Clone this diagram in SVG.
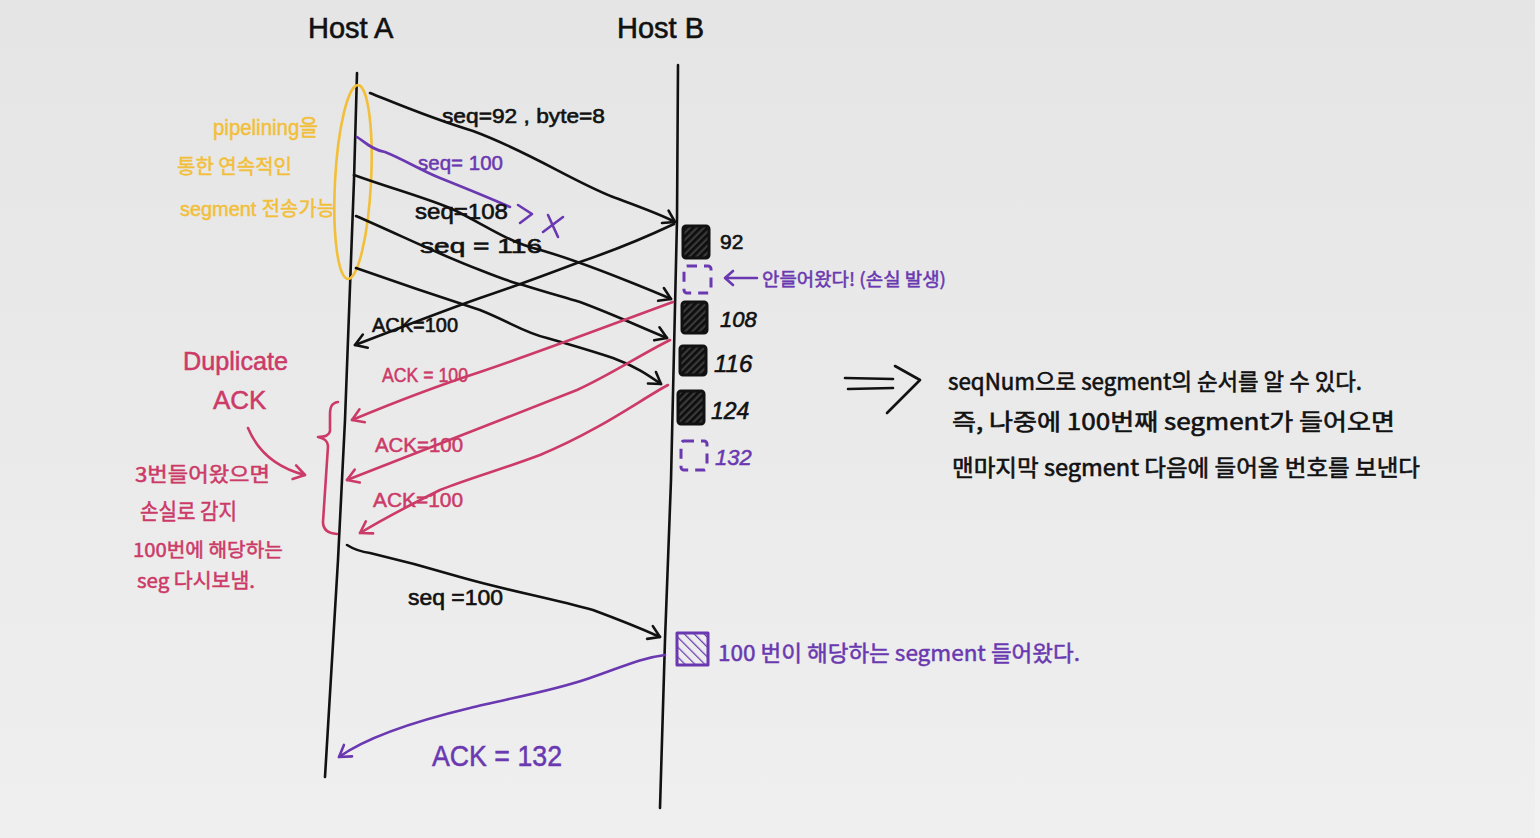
<svg xmlns="http://www.w3.org/2000/svg" width="1540" height="838" viewBox="0 0 1540 838">
<defs>
<linearGradient id="bg" x1="0" y1="0" x2="0" y2="1">
<stop offset="0" stop-color="#e5e5e5"/>
<stop offset="1" stop-color="#efefef"/>
</linearGradient>
<marker id="ab" viewBox="-13 -9 15 18" refX="0" refY="0" markerWidth="15" markerHeight="18" markerUnits="userSpaceOnUse" orient="auto">
<path d="M-11,-7 L0,0 L-11,7" fill="none" stroke="#111" stroke-width="2.6" stroke-linecap="round" stroke-linejoin="round"/>
</marker>
<marker id="ap" viewBox="-13 -9 15 18" refX="0" refY="0" markerWidth="15" markerHeight="18" markerUnits="userSpaceOnUse" orient="auto">
<path d="M-11,-7 L0,0 L-11,7" fill="none" stroke="#cc3a68" stroke-width="2.6" stroke-linecap="round" stroke-linejoin="round"/>
</marker>
<marker id="au" viewBox="-13 -9 15 18" refX="0" refY="0" markerWidth="15" markerHeight="18" markerUnits="userSpaceOnUse" orient="auto">
<path d="M-11,-7 L0,0 L-11,7" fill="none" stroke="#6a38b0" stroke-width="2.6" stroke-linecap="round" stroke-linejoin="round"/>
</marker>
<pattern id="hatchBlack" width="5" height="5" patternUnits="userSpaceOnUse" patternTransform="rotate(45)">
<rect width="5" height="5" fill="#3a3a3a"/>
<line x1="1" y1="0" x2="1" y2="5" stroke="#0d0d0d" stroke-width="3.5"/>
</pattern>
<pattern id="hatchPurple" width="7" height="7" patternUnits="userSpaceOnUse" patternTransform="rotate(-45)">
<line x1="0" y1="0" x2="0" y2="7" stroke="#6a38b0" stroke-width="2.5"/>
</pattern>
<style>
.t{font-family:"Liberation Sans","Noto Sans CJK KR",sans-serif;}
.k{font-family:"Noto Sans CJK KR","Liberation Sans",sans-serif;}
.blk{fill:#111;stroke:#111;stroke-width:0.6;}
.pnk{fill:#cc3a68;stroke:#cc3a68;stroke-width:0.5;}
.pur{fill:#6a38b0;stroke:#6a38b0;stroke-width:0.5;}
.yel{fill:#f2bf3a;stroke:#f2bf3a;stroke-width:0.5;}
.ln{fill:none;stroke-linecap:round;stroke-linejoin:round;stroke-width:2.6;}
.lb{stroke:#111;}
.lp{stroke:#cc3a68;}
.lu{stroke:#6a38b0;}
.box{stroke-width:3;stroke-linejoin:round;}
</style>
</defs>
<rect width="1540" height="838" fill="url(#bg)"/>
<rect x="1535" y="0" width="5" height="838" fill="#f2f2f2"/>

<g id="hostA">
<text class="t blk" x="308" y="38" font-size="29">Host A</text>
<path class="ln lb" stroke-width="3" d="M357,73 L354,180 L345,420 L338,560 L325,777"/>
</g>
<g id="hostB">
<text class="t blk" x="617" y="38" font-size="29">Host B</text>
<path class="ln lb" stroke-width="3" d="M678,65 L677,220 L671,480 L665,640 L660,808"/>
</g>

<g id="pipelining-note">
<ellipse cx="353" cy="182" rx="18" ry="97" fill="none" stroke="#f2bf3a" stroke-width="2.6" transform="rotate(3 353 182)"/>
<text class="t yel" x="213" y="135" font-size="22" textLength="105" lengthAdjust="spacingAndGlyphs">pipelining을</text>
<text class="k yel" x="177" y="174" font-size="20" textLength="115" lengthAdjust="spacingAndGlyphs">통한 연속적인</text>
<text class="t yel" x="180" y="216" font-size="20" textLength="155" lengthAdjust="spacingAndGlyphs">segment 전송가능</text>
</g>

<g id="dup-ack-note">
<text class="t pnk" x="183" y="370" font-size="25" textLength="105" lengthAdjust="spacingAndGlyphs">Duplicate</text>
<text class="t pnk" x="213" y="409" font-size="26">ACK</text>
<text class="k pnk" x="135" y="482" font-size="20" textLength="135" lengthAdjust="spacingAndGlyphs">3번들어왔으면</text>
<text class="k pnk" x="140" y="519" font-size="22" textLength="97" lengthAdjust="spacingAndGlyphs">손실로 감지</text>
<text class="k pnk" x="133" y="557" font-size="19" textLength="150" lengthAdjust="spacingAndGlyphs">100번에 해당하는</text>
<text class="k pnk" x="137" y="588" font-size="20" textLength="118" lengthAdjust="spacingAndGlyphs">seg 다시보냄.</text>
<path class="ln lp" d="M338,402 C331,403 330,408 330,415 L330,431 Q329,437 318,437 Q328,439 328,446 L323,522 Q323,533 337,534"/>
</g>

<g id="segments-B">
<rect class="box" x="683" y="226" width="26" height="32" rx="3" fill="url(#hatchBlack)" stroke="#111"/>
<text class="t blk" x="720" y="249" font-size="21">92</text>
<rect class="box" x="684" y="266" width="27" height="27" rx="3" fill="none" stroke="#6a38b0" stroke-dasharray="10 7"/>
<path class="ln lu" d="M725,278 L757,278 M733,271 L725,278 L733,285"/>
<text class="k pur" x="762" y="286" font-size="18" textLength="184" lengthAdjust="spacingAndGlyphs">안들어왔다! (손실 발생)</text>
<rect class="box" x="682" y="302" width="25" height="31" rx="3" fill="url(#hatchBlack)" stroke="#111"/>
<text class="t blk" x="720" y="327" font-size="22" font-style="italic">108</text>
<rect class="box" x="680" y="346" width="26" height="29" rx="3" fill="url(#hatchBlack)" stroke="#111"/>
<text class="t blk" x="714" y="372" font-size="24" font-style="italic">116</text>
<rect class="box" x="678" y="391" width="26" height="33" rx="3" fill="url(#hatchBlack)" stroke="#111"/>
<text class="t blk" x="711" y="419" font-size="23" font-style="italic">124</text>
<rect class="box" x="681" y="441" width="26" height="29" rx="3" fill="none" stroke="#6a38b0" stroke-dasharray="10 7"/>
<text class="t pur" x="715" y="465" font-size="22" font-style="italic">132</text>
<rect class="box" x="677" y="633" width="31" height="32" fill="url(#hatchPurple)" stroke="#6a38b0"/>
<text class="k pur" x="718" y="661" font-size="22" textLength="362" lengthAdjust="spacingAndGlyphs">100 번이 해당하는 segment 들어왔다.</text>
</g>

<g id="conclusion">
<path class="ln lb" d="M845,378 L893,379 M848,389 L893,388 M895,366 L920,380 L887,413"/>
<text class="k blk" x="948" y="390" font-size="23" textLength="414" lengthAdjust="spacingAndGlyphs">seqNum으로 segment의 순서를 알 수 있다.</text>
<text class="k blk" x="952" y="430" font-size="23" textLength="443" lengthAdjust="spacingAndGlyphs">즉, 나중에 100번째 segment가 들어오면</text>
<text class="k blk" x="952" y="476" font-size="23" textLength="468" lengthAdjust="spacingAndGlyphs">맨마지막 segment 다음에 들어올 번호를 보낸다</text>
</g>

<g id="connectors">
<path class="ln lb" d="M370,93 C400,105 430,118 473,131 C530,152 570,180 613,197 C640,207 660,214 675,222" marker-end="url(#ab)"/>
<path class="ln lu" d="M357,137 C365,142 372,150 385,152 C405,160 420,170 440,178 C465,188 485,196 510,207"/>
<path class="ln lu" d="M518,205 L532,214 L520,223 M548,215 L558,237 M543,232 L563,217"/>
<path class="ln lb" d="M354,175 C390,188 420,196 450,208 C480,222 505,240 533,248 C560,255 600,270 630,282 C650,290 660,294 671,299" marker-end="url(#ab)"/>
<path class="ln lb" d="M356,216 C400,235 440,255 480,270 C500,278 510,282 523,285 C545,292 560,296 580,302 C615,315 640,327 667,338" marker-end="url(#ab)"/>
<path class="ln lb" d="M356,268 C390,280 440,297 480,310 C510,322 525,333 547,338 C575,346 595,352 613,358 C635,366 648,375 661,384" marker-end="url(#ab)"/>
<path class="ln lb" d="M674,224 C640,240 610,252 577,263 C540,277 510,288 480,298 C440,312 400,328 355,345" marker-end="url(#ab)"/>
<path class="ln lp" d="M673,302 C610,325 545,350 480,372 C440,385 400,400 352,420" marker-end="url(#ap)"/>
<path class="ln lp" d="M670,340 C640,355 610,375 577,390 C500,420 420,452 347,480" marker-end="url(#ap)"/>
<path class="ln lp" d="M668,385 C640,400 600,430 540,455 C500,470 470,478 440,490 C410,505 385,518 360,533" marker-end="url(#ap)"/>
<path class="ln lp" d="M248,428 C258,452 278,468 305,475" marker-end="url(#ap)"/>
<path class="ln lb" d="M347,545 C355,550 362,552 370,553 C400,560 430,568 460,577 C505,590 550,598 593,610 C620,620 640,628 660,637" marker-end="url(#ab)"/>
<path class="ln lu" d="M665,655 C640,658 620,668 590,678 C550,692 500,700 470,708 C420,720 370,735 339,757" marker-end="url(#au)"/>
<text class="t blk" x="442" y="123" font-size="21" textLength="163" lengthAdjust="spacingAndGlyphs">seq=92 , byte=8</text>
<text class="t pur" x="418" y="170" font-size="21" textLength="85" lengthAdjust="spacingAndGlyphs">seq= 100</text>
<text class="t blk" x="415" y="219" font-size="22" textLength="93" lengthAdjust="spacingAndGlyphs">seq=108</text>
<text class="t blk" x="420" y="253" font-size="21" textLength="122" lengthAdjust="spacingAndGlyphs">seq = 116</text>
<text class="t blk" x="372" y="332" font-size="20" textLength="86" lengthAdjust="spacingAndGlyphs">ACK=100</text>
<text class="t pnk" x="382" y="382" font-size="20" textLength="86" lengthAdjust="spacingAndGlyphs">ACK = 100</text>
<text class="t pnk" x="375" y="452" font-size="20" textLength="88" lengthAdjust="spacingAndGlyphs">ACK=100</text>
<text class="t pnk" x="373" y="507" font-size="20" textLength="90" lengthAdjust="spacingAndGlyphs">ACK=100</text>
<text class="t blk" x="408" y="605" font-size="22" textLength="95" lengthAdjust="spacingAndGlyphs">seq =100</text>
<text class="t pur" x="432" y="766" font-size="30" textLength="130" lengthAdjust="spacingAndGlyphs">ACK = 132</text>
</g>
</svg>
